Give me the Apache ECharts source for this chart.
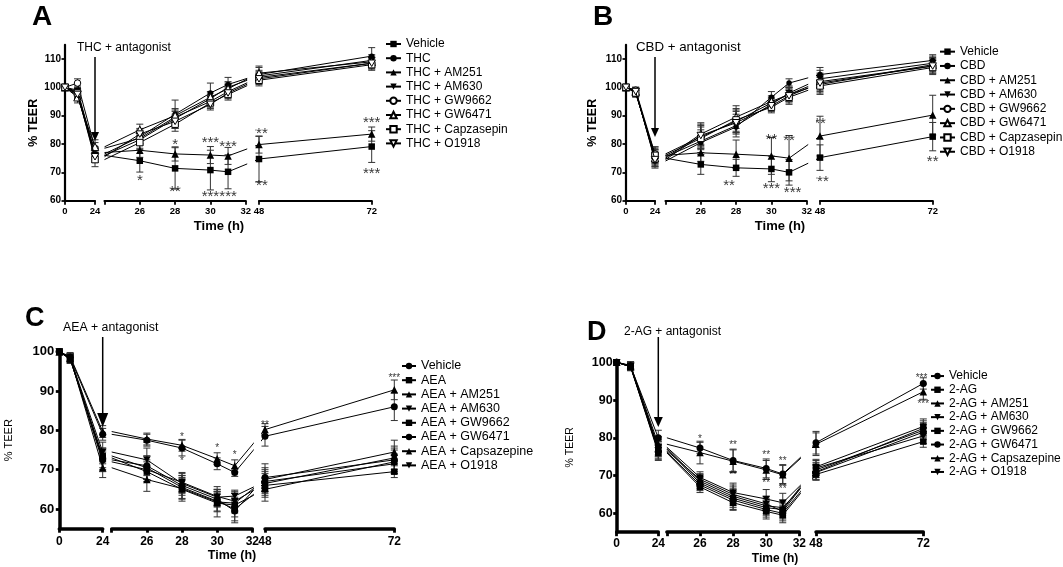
<!DOCTYPE html>
<html><head><meta charset="utf-8">
<script src="https://cdn.jsdelivr.net/npm/echarts@6/dist/echarts.min.js"></script>
<style>html,body{margin:0;padding:0;background:#fff}#c{width:1063px;height:567px}</style>
</head><body><div id="c"></div>
<script>
const FONT = '"Liberation Sans", Arial, Helvetica, sans-serif';

// ================= DATA =================
const hoursA = [0, 10, 24, 26, 28, 30, 31, 48, 72];
const hoursB = [0, 8, 24, 26, 28, 30, 31, 48, 72];
const hoursC = [0, 6, 24, 26, 28, 30, 31, 48, 72];
const hoursD = [0, 8, 24, 26, 28, 30, 31, 48, 72];

const namesA = ['Vehicle','THC','THC + AM251','THC + AM630','THC + GW9662','THC + GW6471','THC + Capzasepin','THC + O1918'];
const namesB = ['Vehicle','CBD','CBD + AM251','CBD + AM630','CBD + GW9662','CBD + GW6471','CBD + Capzasepin','CBD + O1918'];
const namesC = ['Vehicle','AEA','AEA + AM251','AEA + AM630','AEA + GW9662','AEA + GW6471','AEA + Capsazepine','AEA + O1918'];
const namesD = ['Vehicle','2-AG','2-AG + AM251','2-AG + AM630','2-AG + GW9662','2-AG + GW6471','2-AG + Capsazepine','2-AG + O1918'];

// % TEER, one row per series (same order as names)
const teerA = [
  [100, 98, 76, 74.1, 71.4, 70.8, 70.2, 74.7, 79.1],
  [100, 99, 76.5, 82.5, 90.5, 98, 101, 104.5, 111],
  [100, 97, 77, 77.8, 76.5, 76.1, 75.8, 79.8, 83.5],
  [100, 98.5, 76, 81.5, 89, 96, 100, 104, 109.5],
  [100, 101.5, 78.5, 82, 89.5, 95, 98.5, 103.5, 108.5],
  [100, 96.5, 79, 85, 90, 96.5, 99.5, 105, 109],
  [100, 98, 74.5, 80.5, 87, 94.5, 97.5, 102.5, 108],
  [100, 97.5, 75.5, 83.5, 88, 94, 98, 103, 108.5]
];
const semA = [
  [0, 1.5, 2.5, 4, 7.3, 7, 6, 8, 5.6],
  [0, 1.5, 2, 2.5, 5, 3.5, 2.5, 3, 3],
  [0, 1.5, 2, 2.5, 2.5, 3, 3, 3, 2.5],
  [0, 1.5, 2, 2, 2.5, 2, 2, 2, 2],
  [0, 1.5, 2, 2, 2.5, 2, 2, 2, 2],
  [0, 2, 2.5, 2, 2.5, 2, 2, 2, 2],
  [0, 1.5, 2.5, 2, 2.5, 2, 2, 2, 2],
  [0, 1.5, 2, 2, 2.5, 2, 2, 2, 2]
];
const teerB = [
  [100, 98.5, 75, 72.8, 71.6, 71.2, 70, 75.2, 82.6],
  [100, 99, 74, 80.5, 86, 96.5, 101.5, 104.5, 109.5],
  [100, 98, 76, 76.9, 76.4, 75.8, 75, 82.8, 90.2],
  [100, 98.5, 75.5, 81, 86.5, 94, 98, 103, 108.5],
  [100, 99, 76.5, 82.5, 88, 94.5, 97.5, 102, 107.5],
  [100, 98.5, 75, 83.5, 89.5, 95, 97.5, 101, 108],
  [100, 98, 76, 82, 88.5, 93, 96.5, 100.5, 107],
  [100, 98.5, 74.5, 83, 87.5, 93.5, 97, 101.5, 107.5]
];
const semB = [
  [0, 1.5, 3, 3.5, 3, 4.5, 4.5, 4.5, 5],
  [0, 1, 2.5, 2, 2, 2, 1.5, 2.5, 2],
  [0, 1.5, 3, 3, 5, 6.5, 8, 7, 7],
  [0, 1, 2.5, 4, 4, 2, 2.5, 3, 2.5],
  [0, 1, 2.5, 4, 4, 2, 2.5, 3, 2.5],
  [0, 1, 2.5, 4, 4, 2, 2.5, 3, 2.5],
  [0, 1, 2.5, 4, 4, 2, 2.5, 3, 2.5],
  [0, 1, 2.5, 4, 4, 2, 2.5, 3, 2.5]
];
const teerC = [
  [100, 98.5, 79, 77.5, 75.5, 71.5, 69.3, 78.5, 86],
  [100, 98, 73.5, 70.5, 65.5, 62, 60, 66, 69.5],
  [100, 98.8, 79.7, 77.8, 76.2, 72.8, 71, 80.2, 90.3],
  [100, 98.5, 74.5, 72.5, 66.5, 63, 63.3, 67, 71.5],
  [100, 98.2, 73, 69.5, 65, 61.5, 61, 65, 72],
  [100, 98.5, 72.5, 71, 66, 62.5, 59.5, 68, 72.5],
  [100, 98.5, 70.5, 67.5, 65.2, 61.8, 61.5, 67.5, 74.5],
  [100, 98.3, 72, 70, 66.8, 63.2, 62, 66.5, 73]
];
const semC = [
  [0, 1, 1.5, 1.5, 2, 1.5, 1, 2.5, 3.5],
  [0, 1, 2, 3, 3, 2.5, 3, 3, 1.5],
  [0, 1, 1.5, 1.5, 1.5, 1.5, 1.5, 1.5, 2.5],
  [0, 1, 2.5, 3, 2.5, 2, 1.5, 3, 2.5],
  [0, 1, 2.5, 2.5, 3, 3.5, 3, 3, 3],
  [0, 1, 2.5, 2.5, 2.5, 2, 3, 3.5, 3],
  [0, 1, 2.5, 3, 2.5, 2.5, 2.5, 3, 3],
  [0, 1, 2.5, 2.5, 2.5, 2.5, 2.5, 3, 3]
];
const teerD = [
  [100, 99, 80, 77.3, 74, 71.9, 70.4, 78.7, 94.4],
  [100, 98.8, 76, 67, 62.8, 60.5, 59.5, 70.3, 79],
  [100, 99.2, 78.3, 76.1, 73.8, 71.5, 70.2, 78.3, 92.2],
  [100, 99, 77.5, 69.5, 65.5, 63.8, 62.8, 71.5, 82],
  [100, 98.8, 77, 68, 64, 61.5, 61, 72.3, 83],
  [100, 99, 76.3, 67.5, 63.5, 61, 60, 70.8, 81.5],
  [100, 99, 77.2, 68.5, 64.5, 62, 61.5, 71, 82.5],
  [100, 98.8, 76.6, 69, 65, 62.5, 60.5, 72, 80.5]
];
const semD = [
  [0, 1, 2, 1.5, 3, 2.5, 2.5, 3, 1.5],
  [0, 1, 2, 1.5, 2, 2, 2, 1.5, 1.5],
  [0, 1, 2, 3, 3, 2.5, 2.5, 3, 2],
  [0, 1, 2, 1.5, 2.5, 2.5, 2.5, 2, 2],
  [0, 1, 2, 1.5, 2.5, 2, 2, 2, 2],
  [0, 1, 2, 1.5, 2.5, 2, 2, 2, 2],
  [0, 1, 2, 1.5, 2.5, 2, 2, 2, 2],
  [0, 1, 2, 1.5, 2.5, 2, 2, 2, 2]
];

// significance marks: [hour, % TEER position, text]
const sigA = [[26,68.3,'*'],[28,80.8,'*'],[28,64.2,'**'],[30,81.7,'***'],[30,62.4,'***'],[31,80.1,'***'],[31,62.4,'***'],[48,84.6,'***'],[48,66.5,'***'],[72,88.5,'***'],[72,70.5,'***']];
const sigB = [[27.6,66.4,'**'],[30,82.6,'**'],[30,65.5,'***'],[31,82.4,'**'],[31.2,63.8,'***'],[48,88.2,'**'],[48,67.9,'***'],[72,75,'**']];
const sigC = [[28,78.8,'*'],[28,72.6,'*'],[30,75.9,'*'],[31,74.2,'*'],[48,81.8,'**'],[72,93.8,'***']];
const sigD = [[26,80.3,'*'],[28,78.5,'**'],[28,70.6,'**'],[30,75.9,'**'],[30,68.6,'**'],[31,74.3,'**'],[31,66.9,'**'],[71.6,96.4,'***'],[72,89.6,'***']];

// axis ticks
const segHours = [[0,24],[24,32],[48,72]];
const segTicks = [[0,24],[24,26,28,30,32],[48,72]];
const segLabels = [[0,24],[26,28,30,32],[48,72]];
const yTicksAB = [60,70,80,90,100,110];
const yTicksCD = [60,70,80,90,100];

// ================= STYLES / LAYOUT =================
const DOWN = 'path://M0,0L10,0L5,8.66Z';
const symAB = [
  {s:'rect', size:6.5, fill:true},{s:'circle', size:5.5, fill:true},
  {s:'triangle', size:7.5, fill:true},{s:DOWN, size:7.5, fill:true},
  {s:'circle', size:6.5, fill:false},{s:'triangle', size:7.5, fill:false},
  {s:'rect', size:6.5, fill:false},{s:DOWN, size:7.5, fill:false}
];
const symCD = [
  {s:'circle', size:7, fill:true},{s:'rect', size:6.5, fill:true},
  {s:'triangle', size:7.5, fill:true},{s:DOWN, size:7.5, fill:true},
  {s:'rect', size:6.5, fill:true},{s:'circle', size:7, fill:true},
  {s:'triangle', size:7.5, fill:true},{s:DOWN, size:7.5, fill:true}
];

const panels = [
 {id:'A', hours:hoursA, names:namesA, teer:teerA, sem:semA, sig:sigA, sym:symAB,
  segs:[[65,95],[104.5,245.7],[259,371.7]], top:44.8, bottom:200.7, yMin:60, yMax:115, yTicks:yTicksAB,
  axisW:2.2, yFont:10, xFont:9.5, xMargin:6, yMargin:4, yNameFont:12.5, yNameWeight:'bold', yNameGap:24, sigFont:15,
  legend:{left:385, top:36.9, pitch:14.2, font:12, iw:15},
  letter:{t:'A', x:32, y:17, size:28}, treat:{t:'THC + antagonist', x:77, y:47.5, size:12},
  arrow:{top:57, tip:141, hw:4, hh:9}, time:{x:219, y:226, size:13}},
 {id:'B', hours:hoursB, names:namesB, teer:teerB, sem:semB, sig:sigB, sym:symAB,
  segs:[[626,655],[665.5,806.7],[820,932.7]], top:44.8, bottom:200.7, yMin:60, yMax:115, yTicks:yTicksAB,
  axisW:2.2, yFont:10, xFont:9.5, xMargin:6, yMargin:4, yNameFont:12.5, yNameWeight:'bold', yNameGap:26.5, sigFont:15,
  legend:{left:939, top:44.5, pitch:14.3, font:12, iw:15},
  letter:{t:'B', x:593, y:17, size:28}, treat:{t:'CBD + antagonist', x:636, y:47.5, size:13.3},
  arrow:{top:57, tip:137, hw:4, hh:9}, time:{x:780, y:226, size:13}},
 {id:'C', hours:hoursC, names:namesC, teer:teerC, sem:semC, sig:sigC, sym:symCD,
  segs:[[59.3,102.7],[111.7,252.3],[265,394.3]], top:351.7, bottom:528.7, yMin:55, yMax:100, yTicks:yTicksCD,
  axisW:3.5, yFont:13, xFont:12, xMargin:7, yMargin:5, yNameFont:11, yNameWeight:'normal', yNameGap:45, sigFont:10,
  legend:{left:401, top:358.9, pitch:14.2, font:12.5, iw:14},
  letter:{t:'C', x:25, y:319, size:27}, treat:{t:'AEA + antagonist', x:63, y:327.5, size:12.3},
  arrow:{top:337, tip:427, hw:5.5, hh:14}, time:{x:232, y:556, size:12.5}},
 {id:'D', hours:hoursD, names:namesD, teer:teerD, sem:semD, sig:sigD, sym:symCD,
  segs:[[616.7,658.3],[666.9,799.3],[816,923.3]], top:362.3, bottom:532.2, yMin:55, yMax:100, yTicks:yTicksCD,
  axisW:3.5, yFont:12.5, xFont:12, xMargin:5.5, yMargin:4, yNameFont:10.5, yNameWeight:'normal', yNameGap:41, sigFont:10,
  legend:{left:930, top:369.2, pitch:13.7, font:12, iw:13},
  letter:{t:'D', x:587, y:332.5, size:27}, treat:{t:'2-AG + antagonist', x:624, y:331.5, size:12},
  arrow:{top:337, tip:427, hw:4.5, hh:10}, time:{x:775, y:559, size:12}}
];

// broken-axis scale: hour -> position inside the panel's plotting grid
function pos(p, t, s) {
  const h = segHours[s], g = p.segs[s];
  return g[0] + (t - h[0]) / (h[1] - h[0]) * (g[1] - g[0]) - p.segs[0][0];
}
function segOf(t) { return t <= 24 ? 0 : (t <= 32 ? 1 : 2); }

function renderErr(params, api) {
  const x = api.value(0), y = api.value(1), e = api.value(2);
  const c = api.coord([x, y]), t = api.coord([x, y + e]), b = api.coord([x, y - e]);
  const w = 3.5, st = {stroke:'#333', lineWidth:1};
  return {type:'group', children:[
    {type:'line', shape:{x1:c[0], y1:t[1], x2:c[0], y2:b[1]}, style:st},
    {type:'line', shape:{x1:c[0]-w, y1:t[1], x2:c[0]+w, y2:t[1]}, style:st},
    {type:'line', shape:{x1:c[0]-w, y1:b[1], x2:c[0]+w, y2:b[1]}, style:st}
  ]};
}

const option = {
  animation:false, backgroundColor:'#fff', textStyle:{fontFamily:FONT},
  grid:[], xAxis:[], yAxis:[], series:[], legend:[], graphic:{elements:[]}
};

panels.forEach((p, k) => {
  const gi = 4 * k;
  const left = p.segs[0][0], width = p.segs[2][1] - left, height = p.bottom - p.top;
  const axisLine = {show:true, onZero:false, lineStyle:{color:'#000', width:p.axisW}};
  // main plotting grid
  option.grid.push({left:left, top:p.top, width:width, height:height, containLabel:false, outerBoundsMode:'none'});
  option.xAxis.push({type:'value', gridIndex:gi, min:0, max:width, show:false});
  option.yAxis.push({type:'value', gridIndex:gi, min:p.yMin, max:p.yMax,
    axisLine:axisLine, splitLine:{show:false},
    axisTick:{show:true, length:3.5, customValues:p.yTicks, lineStyle:{color:'#000', width:p.axisW*0.8}},
    axisLabel:{customValues:p.yTicks, color:'#000', fontWeight:'bold', fontSize:p.yFont, fontFamily:FONT, margin:p.yMargin},
    name:'% TEER', nameLocation:'middle', nameGap:p.yNameGap, nameRotate:90,
    nameTextStyle:{color:'#000', fontSize:p.yNameFont, fontWeight:p.yNameWeight, fontFamily:FONT}});
  // axis-only grids for the three x segments
  for (let s = 0; s < 3; s++) {
    option.grid.push({left:p.segs[s][0], top:p.top, width:p.segs[s][1]-p.segs[s][0], height:height, containLabel:false, outerBoundsMode:'none'});
    option.xAxis.push({type:'value', gridIndex:gi+1+s, min:segHours[s][0], max:segHours[s][1],
      axisLine:axisLine, splitLine:{show:false},
      axisTick:{show:true, length:4, customValues:segTicks[s], lineStyle:{color:'#000', width:p.axisW*0.8}},
      axisLabel:{customValues:segLabels[s], color:'#000', fontWeight:'bold', fontSize:p.xFont, fontFamily:FONT, margin:p.xMargin}});
    option.yAxis.push({type:'value', gridIndex:gi+1+s, min:p.yMin, max:p.yMax, show:false});
  }
  // error bars
  const errData = [];
  p.teer.forEach((row, i) => {
    row.forEach((v, j) => {
      const e = p.sem[i][j];
      if (e > 0) errData.push([pos(p, p.hours[j], segOf(p.hours[j])), v, e]);
    });
  });
  option.series.push({type:'custom', xAxisIndex:gi, yAxisIndex:gi, renderItem:renderErr, data:errData,
    encode:{x:0, y:1}, z:2, silent:true, clip:false});
  // lines
  p.teer.forEach((row, i) => {
    const pts = [];
    p.hours.forEach((t, j) => { if (t <= 24) pts.push([pos(p, t, 0), row[j]]); });
    pts.push([pos(p, 24, 0) + 2, null]);
    pts.push({value:[pos(p, 24, 1), row[p.hours.indexOf(24)]], symbol:'none'});
    p.hours.forEach((t, j) => { if (t > 24) pts.push([pos(p, t, segOf(t)), row[j]]); });
    const sy = p.sym[i];
    option.series.push({
      type:'line', name:p.id + ':' + p.names[i], xAxisIndex:gi, yAxisIndex:gi, data:pts,
      symbol:sy.s, symbolSize:sy.size, symbolKeepAspect:true, showAllSymbol:true, connectNulls:false,
      itemStyle: sy.fill ? {color:'#000', borderWidth:0} : {color:'#fff', borderColor:'#000', borderWidth:1},
      lineStyle:{color:'#000', width:1}, z:3 + i * 0.01, clip:false, silent:true,
      emphasis:{disabled:true}
    });
  });
  // significance marks
  option.series.push({type:'scatter', xAxisIndex:gi, yAxisIndex:gi, silent:true, z:5,
    symbolSize:1, itemStyle:{color:'rgba(0,0,0,0)'},
    data:p.sig.map(a => ({value:[pos(p, a[0], segOf(a[0])), a[1]], name:a[2]})),
    label:{show:true, position:'inside', formatter:q => q.name, color:'#000', fontSize:p.sigFont,
      fontFamily:FONT, offset:[0, p.sigFont * 0.22]}});
  // legend
  option.legend.push({left:p.legend.left, top:p.legend.top, orient:'vertical', padding:0, itemGap:0,
    itemWidth:p.legend.iw, itemHeight:8, selectedMode:false,
    data:p.names.map(n => p.id + ':' + n), formatter:n => n.slice(2),
    textStyle:{color:'#000', fontSize:p.legend.font, lineHeight:p.legend.pitch, fontFamily:FONT}});
  // annotations
  const ax = p.segs[0][1];
  const G = option.graphic.elements;
  G.push({type:'rect', z:50, shape:{x:p.segs[1][1] + 1.5, y:p.top, width:p.segs[2][0] - p.segs[1][1] - 5.5, height:height - 3},
    style:{fill:'#fff'}, silent:true});
  G.push({type:'text', z:60, style:{text:p.letter.t, x:p.letter.x, y:p.letter.y, fill:'#000',
    font:'bold ' + p.letter.size + 'px ' + FONT, textVerticalAlign:'middle', textAlign:'left'}});
  G.push({type:'text', z:60, style:{text:p.treat.t, x:p.treat.x, y:p.treat.y, fill:'#000',
    font:p.treat.size + 'px ' + FONT, textVerticalAlign:'middle', textAlign:'left'}});
  G.push({type:'line', z:60, shape:{x1:ax, y1:p.arrow.top, x2:ax, y2:p.arrow.tip - p.arrow.hh + 1},
    style:{stroke:'#000', lineWidth:1.5}});
  G.push({type:'polygon', z:60, shape:{points:[[ax - p.arrow.hw, p.arrow.tip - p.arrow.hh], [ax + p.arrow.hw, p.arrow.tip - p.arrow.hh], [ax, p.arrow.tip]]},
    style:{fill:'#000'}});
  G.push({type:'text', z:60, style:{text:'Time (h)', x:p.time.x, y:p.time.y, fill:'#000',
    font:'bold ' + p.time.size + 'px ' + FONT, textVerticalAlign:'middle', textAlign:'center'}});
});

const chart = echarts.init(document.getElementById('c'), null, {renderer:'canvas'});
chart.setOption(option);
</script>
</body></html>
